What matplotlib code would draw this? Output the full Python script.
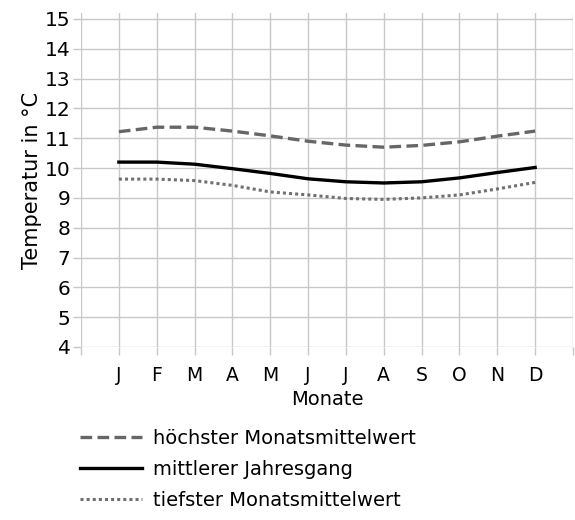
import matplotlib.pyplot as plt

months = ["J", "F", "M", "A", "M", "J", "J", "A", "S", "O", "N", "D"]
hoechster = [11.22, 11.37, 11.37, 11.24, 11.08, 10.9, 10.77, 10.7, 10.76, 10.88, 11.07, 11.24]
mittlerer = [10.2, 10.2, 10.13, 9.98, 9.82, 9.64, 9.54, 9.5, 9.54, 9.67, 9.85, 10.02]
tiefster = [9.63, 9.63, 9.58, 9.42, 9.2, 9.1, 8.98, 8.95, 9.0, 9.1, 9.3, 9.52]
yticks = list(range(4, 16))

plt.rcParams["font.family"] = "DejaVu Sans"

fig = plt.figure(figsize=(5.75, 5.2), dpi=100)
ax = fig.add_axes([0.1409, 0.3327, 0.8556, 0.6423])

x = list(range(1, 13))
grid_c = "#c8c8c8"

ax.plot(x, hoechster, color="#666666", lw=2.4, ls=(0, (3.5, 1.6)),
        label="höchster Monatsmittelwert", zorder=3)
ax.plot(x, mittlerer, color="black", lw=2.4, label="mittlerer Jahresgang", zorder=3)
ax.plot(x, tiefster, color="#707070", lw=2.2, ls=(0, (1, 1)),
        label="tiefster Monatsmittelwert", zorder=3)

ax.set_xlim(0, 13)
ax.set_ylim(4, 15.2)
ax.set_xticks(range(0, 14))
ax.set_xticklabels([""] + months + [""], fontsize=13.5)
ax.set_yticks(yticks)
ax.set_yticklabels([str(v) for v in yticks], fontsize=14.5)
ax.grid(True, color=grid_c, lw=1.0)
for s in ax.spines.values():
    s.set_visible(False)
ax.tick_params(axis="both", color=grid_c, width=1.0, length=5.5)
ax.tick_params(axis="y", pad=2)
ax.tick_params(axis="x", pad=8)

ax.set_xlabel("Monate", fontsize=14, labelpad=4)
ax.set_ylabel("Temperatur in °C", fontsize=15, labelpad=2)

handles, labels = ax.get_legend_handles_labels()
fig.legend(handles, labels, loc="upper left", bbox_to_anchor=(0.125, 0.19),
           frameon=False, fontsize=14, handlelength=3.2, handletextpad=0.55,
           labelspacing=0.62, borderaxespad=0)

fig.savefig("out.png", dpi=100)
